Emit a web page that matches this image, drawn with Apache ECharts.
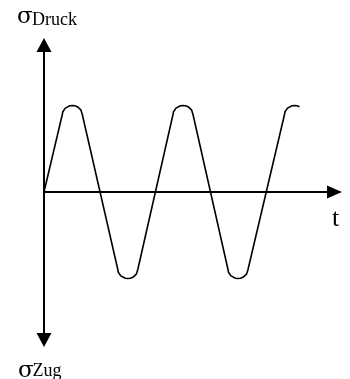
<!DOCTYPE html>
<html>
<head>
<meta charset="utf-8">
<script src="https://cdn.jsdelivr.net/npm/echarts@6/dist/echarts.min.js"></script>
<style>
html,body{margin:0;padding:0;background:#fff;}
#main{width:350px;height:379px;}
</style>
</head>
<body>
<div id="main"></div>
<script>
// time axis positions of the waveform points
var tValues = [0,
  18.3, 18.8, 19.8, 21.3, 23.3, 25.8, 28.3, 30.8, 33.3, 35.3, 36.8, 37.8, 38.3,
  73.8, 74.3, 75.3, 76.8, 78.8, 81.3, 83.8, 86.3, 88.8, 90.8, 92.3, 93.3, 93.8,
  129, 129.5, 130.5, 132, 134, 136.5, 139, 141.5, 144, 146, 147.5, 148.5, 149,
  184, 184.5, 185.5, 187, 189, 191.5, 194, 196.5, 199, 201, 202.5, 203.5, 204,
  240.5, 241, 242, 243.5, 245.5, 248, 250.5, 253, 255.5];
// stress values (positive = Druck, negative = Zug)
var sigmaValues = [0,
  77.5, 80.3, 82.2, 83.9, 85.3, 86.2, 86.5, 86.2, 85.3, 83.9, 82.2, 80.3, 77.5,
  -77.5, -80.3, -82.2, -83.9, -85.3, -86.2, -86.5, -86.2, -85.3, -83.9, -82.2, -80.3, -77.5,
  77.5, 80.3, 82.2, 83.9, 85.3, 86.2, 86.5, 86.2, 85.3, 83.9, 82.2, 80.3, 77.5,
  -77.5, -80.3, -82.2, -83.9, -85.3, -86.2, -86.5, -86.2, -85.3, -83.9, -82.2, -80.3, -77.5,
  77.5, 80.3, 82.2, 83.9, 85.3, 86.2, 86.5, 86.2, 85.3];
var yTopLabel = ['\u03C3', 'Druck'];
var yBottomLabel = ['\u03C3', 'Zug'];
var xLabel = 't';

var pts = tValues.map(function (t, i) { return [t, sigmaValues[i]]; });
var serif = '"Liberation Serif", "Times New Roman", serif';
var sigmaFont = '"DejaVu Serif", serif';

var chart = echarts.init(document.getElementById('main'), null, {renderer: 'canvas'});
chart.setOption({
  animation: false,
  backgroundColor: '#fff',
  grid: {left: 44, right: 15.5, top: 45, bottom: 39},
  xAxis: {
    type: 'value', min: 0, max: 290.5,
    axisLine: {show: true, onZero: true, symbol: ['none', 'triangle'], symbolSize: [13, 15],
      lineStyle: {color: '#000', width: 2}},
    axisTick: {show: false}, axisLabel: {show: false}, splitLine: {show: false}
  },
  yAxis: {
    type: 'value', min: -148, max: 147,
    axisLine: {show: true, onZero: true, symbol: ['triangle', 'triangle'], symbolSize: [15, 14],
      lineStyle: {color: '#000', width: 2}},
    axisTick: {show: false}, axisLabel: {show: false}, splitLine: {show: false}
  },
  series: [{
    type: 'line', data: pts, showSymbol: false, symbol: 'none', smooth: false,
    lineStyle: {color: '#000', width: 1.6}
  }],
  graphic: [
    {type: 'text', left: 17, top: 6, style: {text: yTopLabel[0], font: '23px ' + sigmaFont, fill: '#000'}},
    {type: 'text', left: 32, top: 11, style: {text: yTopLabel[1], font: '18px ' + serif, fill: '#000'}},
    {type: 'text', left: 18, top: 359.5, style: {text: yBottomLabel[0], font: '23px ' + sigmaFont, fill: '#000'}},
    {type: 'text', left: 32.5, top: 362, style: {text: yBottomLabel[1], font: '18px ' + serif, fill: '#000'}},
    {type: 'text', left: 332, top: 206, style: {text: xLabel, font: '26px ' + serif, fill: '#000'}}
  ]
});
</script>
</body>
</html>
